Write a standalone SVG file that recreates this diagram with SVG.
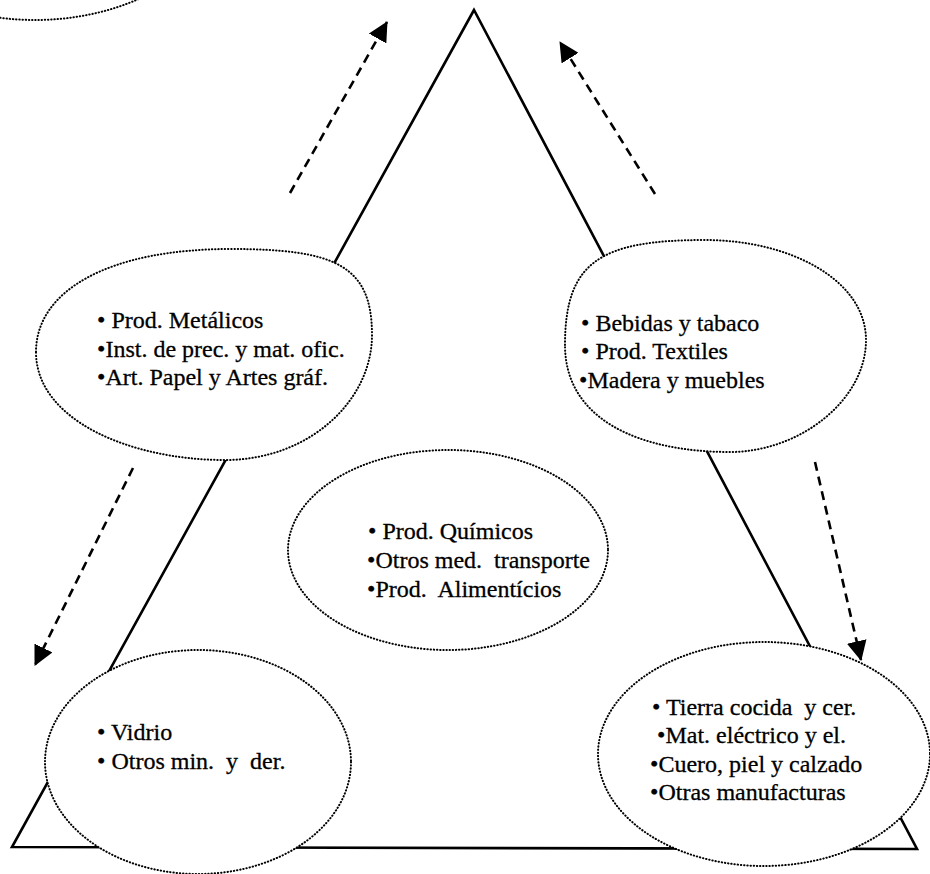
<svg xmlns="http://www.w3.org/2000/svg" width="930" height="874" viewBox="0 0 930 874">
<style>
.tri{fill:none;stroke:#000;stroke-width:2.6;stroke-linejoin:miter}
.ell{fill:#fff;stroke:#000;stroke-width:2;stroke-dasharray:0.4 2.8;stroke-linecap:round}
.arr{fill:none;stroke:#000;stroke-width:2.6;stroke-dasharray:9 6;marker-end:url(#head)}
text{font-family:"Liberation Serif","Times New Roman",serif;font-size:24px;fill:#000;stroke:#000;stroke-width:0.3;white-space:pre}
</style>
<defs>
<marker id="head" viewBox="0 0 20 20" refX="19" refY="10" markerWidth="20" markerHeight="20" markerUnits="userSpaceOnUse" orient="auto">
<path d="M0,0 L20,10 L0,20 Z" fill="#000"/>
</marker>
</defs>
<rect width="930" height="874" fill="#fff"/>
<g id="triangle">
<path class="tri" d="M474,10 L12,847 L917,849 Z"/>
</g>
<g id="connectors">
<path class="arr" d="M290,193 L387,22"/>
<path class="arr" d="M655,194 L560,42"/>
<path class="arr" d="M133,468 L35,665"/>
<path class="arr" d="M815,462 L861,660"/>
</g>
<g id="node-top">
<ellipse class="ell" cx="35" cy="-110" rx="190" ry="130"/>
</g>
<g id="node-metalicos">
<path class="ell" d="M36,352 C36,290 110,249 230,249 C335,249 372,265 372,335 C372,400 310,460 225,460 C130,460 36,420 36,352 Z"/>
<text x="97" y="328">• Prod. Metálicos</text>
<text x="97" y="357">•Inst. de prec. y mat. ofic.</text>
<text x="97" y="385">•Art. Papel y Artes gráf.</text>
</g>
<g id="node-bebidas">
<path class="ell" d="M565,345 C565,262 600,240 705,240 C790,240 866,280 866,340 C866,400 800,452 730,452 C640,452 565,420 565,345 Z"/>
<text x="581" y="331">• Bebidas y tabaco</text>
<text x="581" y="359">• Prod. Textiles</text>
<text x="579" y="388">•Madera y muebles</text>
</g>
<g id="node-quimicos">
<ellipse class="ell" cx="448" cy="550" rx="160" ry="100"/>
<text x="368" y="539">• Prod. Químicos</text>
<text x="367" y="568">•Otros med.  transporte</text>
<text x="367" y="597">•Prod.  Alimentícios</text>
</g>
<g id="node-vidrio">
<ellipse class="ell" cx="198" cy="762" rx="153" ry="112"/>
<text x="97" y="740">• Vidrio</text>
<text x="97" y="769">• Otros min.  y  der.</text>
</g>
<g id="node-tierra">
<ellipse class="ell" cx="764" cy="754" rx="166" ry="112"/>
<text x="652" y="715">• Tierra cocida  y cer.</text>
<text x="657" y="743">•Mat. eléctrico y el.</text>
<text x="650" y="772">•Cuero, piel y calzado</text>
<text x="650" y="800">•Otras manufacturas</text>
</g>
</svg>
